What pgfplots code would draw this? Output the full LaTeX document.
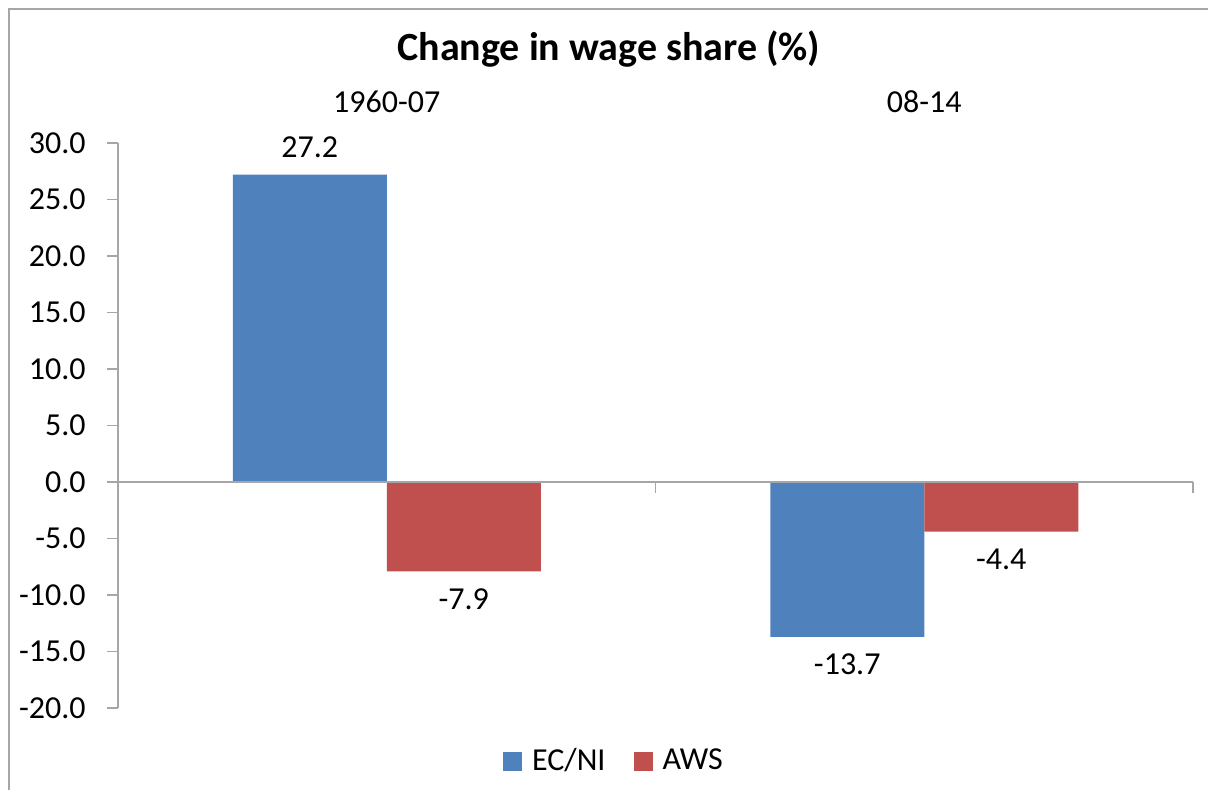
\documentclass[border=0pt]{standalone}
\usepackage{pgfplots}
\pgfplotsset{compat=1.18}
\usepackage{fontspec}
\setmainfont{Carlito}
\definecolor{ecblue}{HTML}{4F81BD}
\definecolor{awsred}{HTML}{C0504D}
\definecolor{axgray}{HTML}{A6A6A6}
\begin{document}
\begin{tikzpicture}
\path[use as bounding box] (0,0) rectangle (604pt,394.5pt);
\draw[axgray, line width=1pt] (4.5pt,-1pt) -- (4.5pt,390pt) -- (605pt,390pt);
\begin{axis}[
 at={(59pt,40.5pt)}, anchor=south west,
 scale only axis, width=537.5pt, height=282.5pt,
 xmin=0, xmax=2, ymin=-20, ymax=30,
 ybar=0pt, bar width=77pt,
 axis y line*=left, axis x line*=top,
 x axis line style={draw=none},
 y axis line style={axgray, line width=0.8pt},
 xtick={0.5,1.5}, xticklabels={1960-07,08-14},
 xtick style={draw=none},
 xticklabel style={anchor=south, inner sep=0pt, yshift=9.5pt},
 ytick={-20,-15,...,30},
 ytick style={axgray, line width=0.8pt},
 tick align=outside, major tick length=5.5pt,
 yticklabel style={anchor=east, inner sep=0pt, xshift=-10.5pt},
 /pgf/number format/.cd, fixed, fixed zerofill, precision=1, assume math mode=true, /pgfplots/.cd,
 tick label style={font=\fontsize{16}{19}\selectfont},
 nodes near coords, nodes near coords align=vertical,
 nodes near coords style={font=\fontsize{16}{19}\selectfont, inner sep=8.5pt, text=black},
 title={Change in wage share (\%)},
 title style={at={(axis description cs:0.4567,1.145)}, anchor=center, font=\bfseries\fontsize{20}{24}\selectfont},
 legend style={at={(axis description cs:0.4623,-0.0938)}, anchor=center, draw=none, legend columns=2, font=\fontsize{16}{19}\selectfont, /tikz/every even column/.append style={column sep=12pt}},
 sq/.style={legend image code/.code={\fill[##1] (0pt,-4.75pt) rectangle (9.5pt,4.75pt); \path (12.5pt,0pt);}},
 clip=false,
]
\addplot[fill=ecblue, draw=none, sq] coordinates {(0.5,27.2) (1.5,-13.7)};
\addplot[fill=awsred, draw=none, sq] coordinates {(0.5,-7.9) (1.5,-4.4)};
\legend{EC/NI,AWS}
\draw[axgray, line width=0.8pt] (axis cs:0,0) -- (axis cs:2,0);
\draw[axgray, line width=0.8pt] (axis cs:0,0) -- ([yshift=-5.5pt]axis cs:0,0);
\draw[axgray, line width=0.8pt] (axis cs:1,0) -- ([yshift=-5.5pt]axis cs:1,0);
\draw[axgray, line width=0.8pt] (axis cs:2,0) -- ([yshift=-5.5pt]axis cs:2,0);
\end{axis}
\end{tikzpicture}
\end{document}
